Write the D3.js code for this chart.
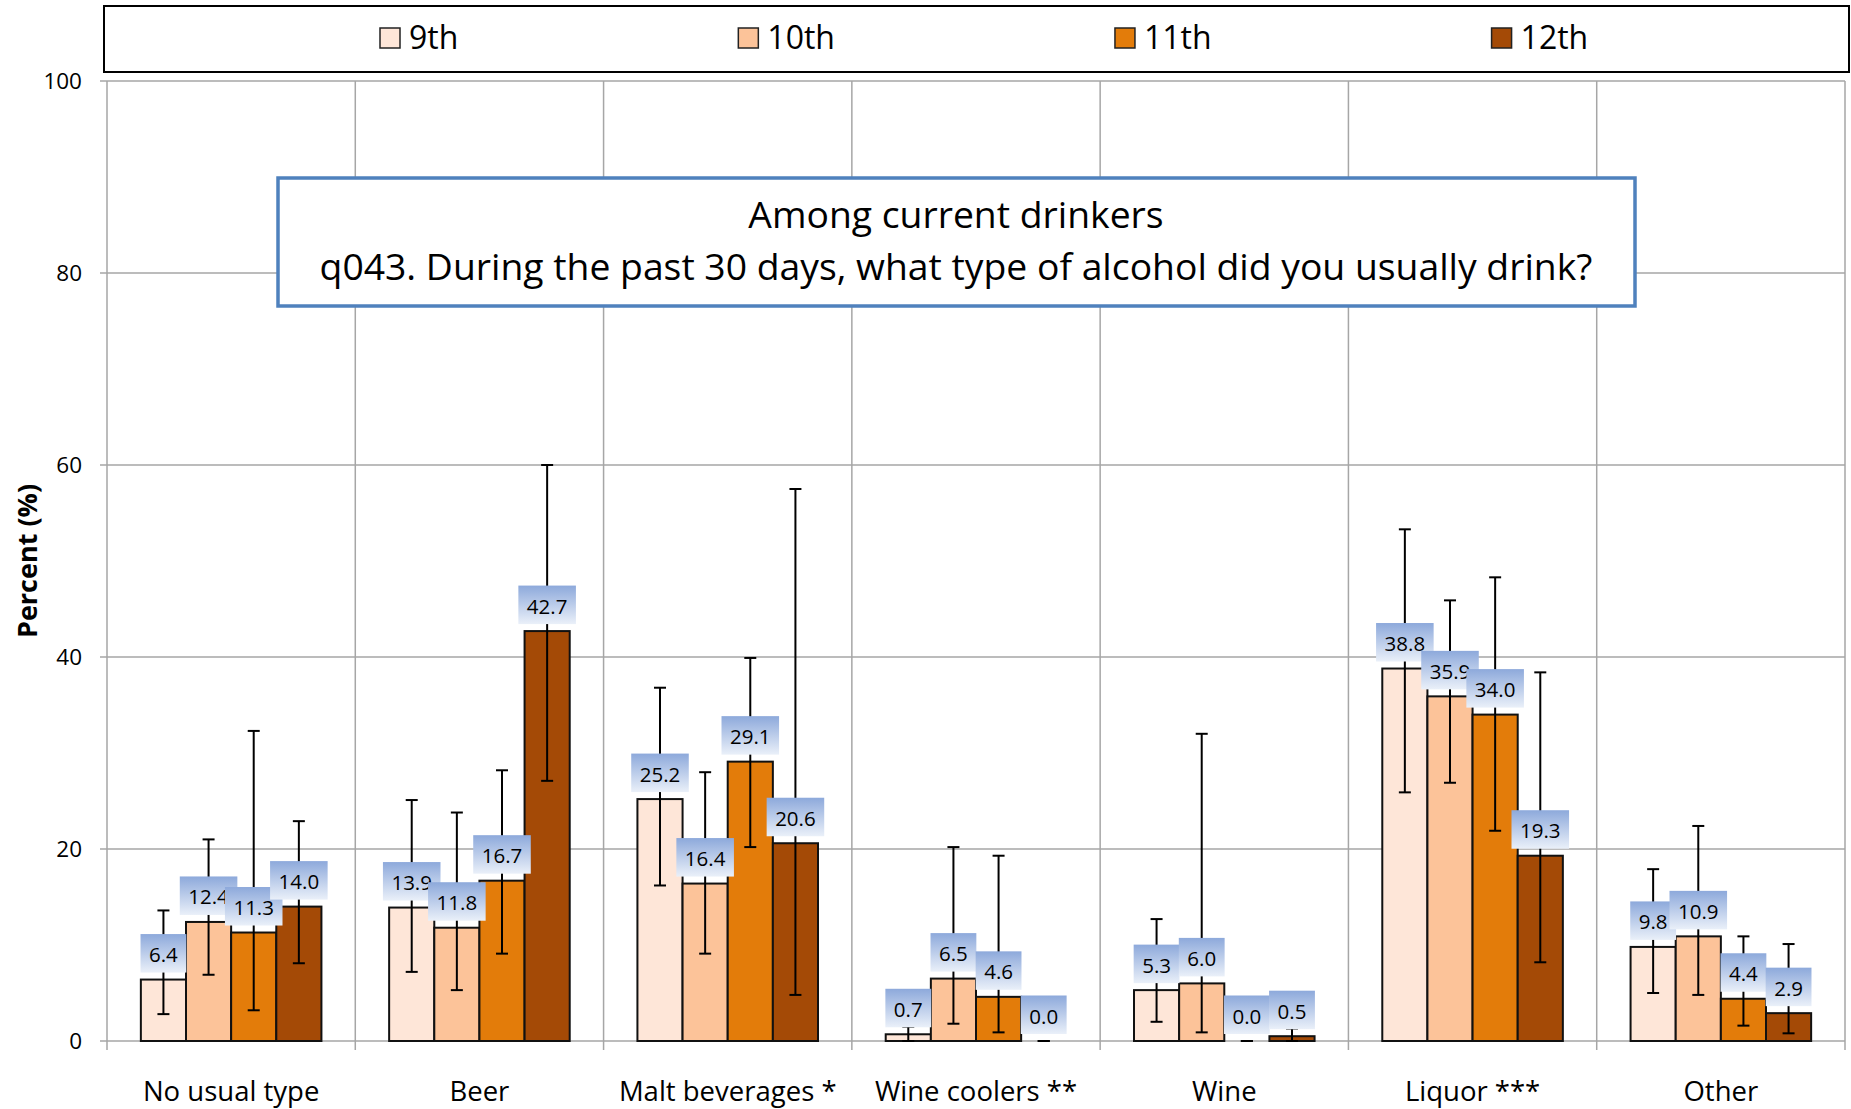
<!DOCTYPE html>
<html>
<head>
<meta charset="utf-8">
<script src="https://cdn.jsdelivr.net/npm/d3@7"></script>
<style>
  body { margin: 0; background: #fff; }
  text { font-family: 'Open Sans', 'Noto Sans', sans-serif; fill: #000; }
</style>
</head>
<body>
<div id="chart"></div>
<script>
// categories and series
const categories = ['No usual type', 'Beer', 'Malt beverages *', 'Wine coolers **', 'Wine', 'Liquor ***', 'Other'];
const grades = ['9th', '10th', '11th', '12th'];
const colors = ['#FEE6D8', '#FCC399', '#E37C0A', '#A44A06'];

// percent values, one array per grade
const v9  = [6.4, 13.9, 25.2, 0.7, 5.3, 38.8, 9.8];
const v10 = [12.4, 11.8, 16.4, 6.5, 6.0, 35.9, 10.9];
const v11 = [11.3, 16.7, 29.1, 4.6, 0.0, 34.0, 4.4];
const v12 = [14.0, 42.7, 20.6, 0.0, 0.5, 19.3, 2.9];

// confidence interval bounds
const lo9  = [2.8, 7.2, 16.2, 0.0, 2.0, 25.9, 5.0];
const hi9  = [13.6, 25.1, 36.8, 1.5, 12.7, 53.3, 17.9];
const lo10 = [6.9, 5.3, 9.1, 1.8, 0.9, 26.9, 4.8];
const hi10 = [21.0, 23.8, 28.0, 20.2, 32.0, 45.9, 22.4];
const lo11 = [3.2, 9.1, 20.2, 0.9, 0.0, 21.9, 1.6];
const hi11 = [32.3, 28.2, 39.9, 19.3, 0.0, 48.3, 10.9];
const lo12 = [8.1, 27.1, 4.8, 0.0, 0.0, 8.2, 0.8];
const hi12 = [22.9, 60.0, 57.5, 0.0, 1.3, 38.4, 10.1];

const yTicks = [0, 20, 40, 60, 80, 100];
const titleLines = ['Among current drinkers', 'q043. During the past 30 days, what type of alcohol did you usually drink?'];

const values = [v9, v10, v11, v12];
const lows = [lo9, lo10, lo11, lo12];
const highs = [hi9, hi10, hi11, hi12];

const width = 1851, height = 1109;
const svg = d3.select('#chart').append('svg')
  .attr('width', width)
  .attr('height', height);

svg.append('rect').attr('width', width).attr('height', height).attr('fill', '#fff');

// gradient for the data label boxes
const grad = svg.append('defs').append('linearGradient')
  .attr('id', 'lbl').attr('x1', 0).attr('y1', 0).attr('x2', 0).attr('y2', 1);
grad.append('stop').attr('offset', '0%').attr('stop-color', '#8DA9DB');
grad.append('stop').attr('offset', '100%').attr('stop-color', '#EAF0F9');

const x0 = d3.scaleBand().domain(categories).range([107, 1845]).padding(0);
const x1 = d3.scaleBand().domain(grades).range([0, x0.bandwidth()]).paddingInner(0).paddingOuter(0.75);
const y = d3.scaleLinear().domain([0, 100]).range([1041, 81]);

const grid = '#A6A6A6';

// horizontal gridlines
svg.append('g').selectAll('line').data(yTicks).join('line')
  .attr('x1', 100).attr('x2', 1845)
  .attr('y1', d => y(d)).attr('y2', d => y(d))
  .attr('stroke', grid).attr('stroke-width', 1.5);

// vertical gridlines between categories
const bounds = categories.map(c => x0(c)).concat([x0.range()[1]]);
svg.append('g').selectAll('line').data(bounds).join('line')
  .attr('x1', d => d).attr('x2', d => d)
  .attr('y1', y(100)).attr('y2', y(0) + 9)
  .attr('stroke', grid).attr('stroke-width', 1.5);

// y axis labels
const yAxis = svg.append('g')
  .attr('transform', 'translate(107,0)')
  .call(d3.axisLeft(y).tickValues(yTicks).tickSize(0).tickPadding(25));
yAxis.select('.domain').remove();
yAxis.selectAll('text')
  .style('font-family', "'Open Sans', sans-serif")
  .style('font-size', '22.5px')
  .attr('fill', '#000');

// y axis title
svg.append('text')
  .attr('transform', 'translate(37,561) rotate(-90)')
  .style('font-size', '27px')
  .style('font-weight', 'bold')
  .style('text-anchor', 'middle')
  .text('Percent (%)');

// category labels
svg.append('g').selectAll('text').data(categories).join('text')
  .attr('x', d => x0(d) + x0.bandwidth() / 2)
  .attr('y', 1101)
  .style('font-size', '27.5px')
  .style('text-anchor', 'middle')
  .text(d => d);

// flatten into records
const recs = [];
grades.forEach((g, gi) => {
  categories.forEach((c, ci) => {
    recs.push({ g: g, gi: gi, c: c, v: values[gi][ci], lo: lows[gi][ci], hi: highs[gi][ci] });
  });
});

// bars
svg.append('g').selectAll('rect').data(recs).join('rect')
  .attr('x', d => x0(d.c) + x1(d.g))
  .attr('width', x1.bandwidth())
  .attr('y', d => y(d.v))
  .attr('height', d => y(0) - y(d.v))
  .attr('fill', d => colors[d.gi])
  .attr('stroke', '#111')
  .attr('stroke-width', 2);

// error bars
const eb = svg.append('g').attr('stroke', '#000').attr('stroke-width', 2);
recs.forEach(d => {
  const cx = x0(d.c) + x1(d.g) + x1.bandwidth() / 2;
  eb.append('line').attr('x1', cx).attr('x2', cx).attr('y1', y(d.lo)).attr('y2', y(d.hi));
  eb.append('line').attr('x1', cx - 6).attr('x2', cx + 6).attr('y1', y(d.lo)).attr('y2', y(d.lo));
  eb.append('line').attr('x1', cx - 6).attr('x2', cx + 6).attr('y1', y(d.hi)).attr('y2', y(d.hi));
});

// data labels
const lg = svg.append('g');
recs.forEach(d => {
  const cx = x0(d.c) + x1(d.g) + x1.bandwidth() / 2;
  const bottom = y(d.v) - 7;
  const g = lg.append('g');
  const box = g.append('rect').attr('fill', 'url(#lbl)');
  const t = g.append('text')
    .attr('x', cx).attr('y', bottom - 10.5)
    .style('font-size', '20.5px')
    .style('text-anchor', 'middle')
    .text(d.v.toFixed(1));
  const w = t.node().getComputedTextLength() + 17;
  box.attr('x', cx - w / 2).attr('width', w)
    .attr('y', bottom - 38.5).attr('height', 38.5);
});

// title box
svg.append('rect')
  .attr('x', 278).attr('y', 178).attr('width', 1357).attr('height', 128)
  .attr('fill', '#fff').attr('stroke', '#4F81BD').attr('stroke-width', 3.5);
svg.append('g').selectAll('text').data(titleLines).join('text')
  .attr('x', 956)
  .attr('y', (d, i) => 228 + i * 52)
  .style('font-size', '37.3px')
  .style('text-anchor', 'middle')
  .text(d => d);

// legend: entries laid out with equal gaps between them
svg.append('rect')
  .attr('x', 104).attr('y', 6).attr('width', 1745).attr('height', 66)
  .attr('fill', '#fff').attr('stroke', '#000').attr('stroke-width', 2);
const leg = svg.append('g');
let lxPos = 380;
grades.forEach((gname, i) => {
  const item = leg.append('g').attr('transform', 'translate(' + lxPos + ',28)');
  item.append('rect')
    .attr('width', 20).attr('height', 20)
    .attr('fill', colors[i])
    .attr('stroke', '#222').attr('stroke-width', 1.5);
  const t = item.append('text')
    .attr('x', 29).attr('y', 21)
    .style('font-size', '32px')
    .text(gname);
  lxPos += 29 + t.node().getComputedTextLength() + 280;
});
</script>
</body>
</html>
